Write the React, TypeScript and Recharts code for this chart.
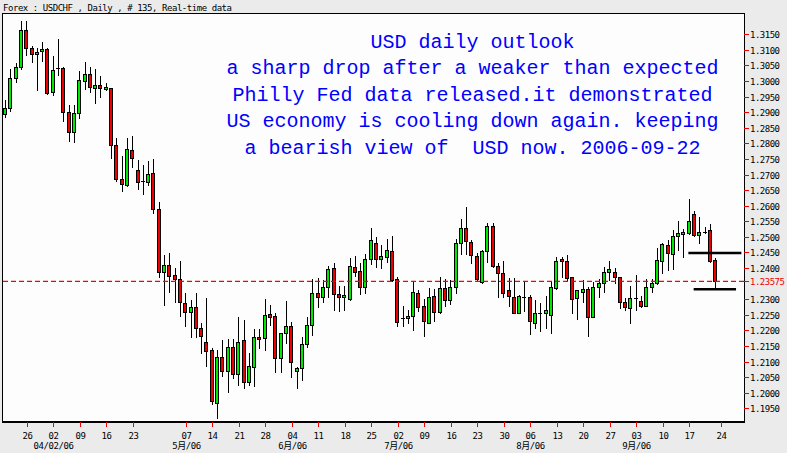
import React from 'react';
import { ComposedChart, Bar, XAxis, YAxis, ReferenceLine } from 'recharts';

const opens = [
  1.2895, 1.2913, 1.3009, 1.3044, 1.3164, 1.3105, 1.3086, 1.3097, 1.3102, 1.2966,
  1.3041, 1.3041, 1.2902, 1.2836, 1.2897, 1.3000, 1.3022, 1.2977, 1.2986, 1.2975,
  1.2977, 1.2795, 1.2686, 1.2666, 1.2779, 1.2715, 1.2679, 1.2677, 1.2706, 1.2588,
  1.2386, 1.2410, 1.2378, 1.2364, 1.2287, 1.2260, 1.2276, 1.2207, 1.2164, 1.2137,
  1.1968, 1.2114, 1.2071, 1.2146, 1.2059, 1.2169, 1.2035, 1.2084, 1.2178, 1.2175,
  1.2253, 1.2246, 1.2111, 1.2191, 1.2214, 1.2069, 1.2078, 1.2155, 1.2216, 1.2320,
  1.2308, 1.2338, 1.2399, 1.2316, 1.2306, 1.2301, 1.2403, 1.2391, 1.2338, 1.2428,
  1.2480, 1.2428, 1.2437, 1.2456, 1.2364, 1.2240, 1.2239, 1.2247, 1.2320, 1.2278,
  1.2225, 1.2309, 1.2258, 1.2335, 1.2298, 1.2340, 1.2480, 1.2528, 1.2483, 1.2439,
  1.2356, 1.2455, 1.2535, 1.2407, 1.2383, 1.2330, 1.2308, 1.2257, 1.2308, 1.2308,
  1.2223, 1.2255, 1.2257, 1.2249, 1.2335, 1.2428, 1.2423, 1.2370, 1.2303, 1.2324,
  1.2334, 1.2244, 1.2338, 1.2353, 1.2388, 1.2386, 1.2370, 1.2290, 1.2271, 1.2303,
  1.2295, 1.2279, 1.2338, 1.2351, 1.2424, 1.2474, 1.2445, 1.2504, 1.2508, 1.2514,
  1.2574, 1.2506, 1.2516, 1.2522, 1.2426,
];

const highs = [
  1.2939, 1.3039, 1.3059, 1.3193, 1.3193, 1.3113, 1.3105, 1.3124, 1.3105, 1.3080,
  1.3135, 1.3044, 1.2923, 1.2923, 1.3032, 1.3060, 1.3044, 1.3039, 1.3017, 1.2993,
  1.2979, 1.2816, 1.2760, 1.2816, 1.2825, 1.2747, 1.2731, 1.2744, 1.2750, 1.2613,
  1.2442, 1.2447, 1.2399, 1.2423, 1.2320, 1.2298, 1.2321, 1.2225, 1.2303, 1.2143,
  1.2137, 1.2169, 1.2171, 1.2171, 1.2244, 1.2233, 1.2128, 1.2205, 1.2205, 1.2301,
  1.2282, 1.2257, 1.2193, 1.2294, 1.2228, 1.2084, 1.2178, 1.2244, 1.2364, 1.2367,
  1.2362, 1.2407, 1.2415, 1.2342, 1.2344, 1.2431, 1.2438, 1.2415, 1.2445, 1.2530,
  1.2500, 1.2474, 1.2492, 1.2502, 1.2370, 1.2278, 1.2266, 1.2359, 1.2330, 1.2300,
  1.2335, 1.2332, 1.2372, 1.2365, 1.2362, 1.2492, 1.2557, 1.2595, 1.2490, 1.2447,
  1.2458, 1.2546, 1.2544, 1.2415, 1.2423, 1.2367, 1.2367, 1.2314, 1.2356, 1.2314,
  1.2298, 1.2287, 1.2310, 1.2356, 1.2435, 1.2437, 1.2442, 1.2372, 1.2330, 1.2362,
  1.2338, 1.2356, 1.2365, 1.2403, 1.2424, 1.2399, 1.2372, 1.2304, 1.2343, 1.2378,
  1.2310, 1.2364, 1.2364, 1.2463, 1.2480, 1.2490, 1.2522, 1.2551, 1.2525, 1.2622,
  1.2583, 1.2565, 1.2533, 1.2541, 1.2432,
];

const lows = [
  1.2886, 1.2905, 1.2998, 1.3039, 1.3084, 1.3062, 1.2971, 1.3064, 1.2958, 1.2955,
  1.3019, 1.2873, 1.2809, 1.2804, 1.2881, 1.2975, 1.2964, 1.2931, 1.2950, 1.2971,
  1.2752, 1.2680, 1.2648, 1.2664, 1.2725, 1.2654, 1.2638, 1.2667, 1.2576, 1.2372,
  1.2282, 1.2323, 1.2292, 1.2247, 1.2215, 1.2180, 1.2178, 1.2127, 1.2087, 1.1963,
  1.1920, 1.2055, 1.2003, 1.2046, 1.2025, 1.2014, 1.2025, 1.2022, 1.2143, 1.2137,
  1.2217, 1.2068, 1.2068, 1.2159, 1.2052, 1.2016, 1.2041, 1.2148, 1.2184, 1.2275,
  1.2292, 1.2308, 1.2266, 1.2261, 1.2264, 1.2298, 1.2373, 1.2316, 1.2320, 1.2413,
  1.2403, 1.2399, 1.2421, 1.2359, 1.2215, 1.2215, 1.2225, 1.2201, 1.2263, 1.2183,
  1.2223, 1.2231, 1.2255, 1.2278, 1.2285, 1.2320, 1.2445, 1.2445, 1.2415, 1.2362,
  1.2351, 1.2421, 1.2405, 1.2308, 1.2306, 1.2278, 1.2255, 1.2255, 1.2263, 1.2189,
  1.2207, 1.2199, 1.2207, 1.2193, 1.2332, 1.2370, 1.2362, 1.2257, 1.2236, 1.2292,
  1.2183, 1.2242, 1.2306, 1.2323, 1.2362, 1.2351, 1.2271, 1.2264, 1.2225, 1.2265,
  1.2275, 1.2278, 1.2324, 1.2349, 1.2383, 1.2394, 1.2396, 1.2458, 1.2435, 1.2509,
  1.2503, 1.2480, 1.2513, 1.2420, 1.2338,
];

const closes = [
  1.2913, 1.3009, 1.3044, 1.3164, 1.3105, 1.3086, 1.3094, 1.3103, 1.2963, 1.3036,
  1.3043, 1.2902, 1.2836, 1.2897, 1.3003, 1.3022, 1.2980, 1.2986, 1.2977, 1.2981,
  1.2795, 1.2686, 1.2669, 1.2782, 1.2752, 1.2677, 1.2680, 1.2701, 1.2588, 1.2386,
  1.2410, 1.2376, 1.2364, 1.2290, 1.2258, 1.2276, 1.2207, 1.2183, 1.2135, 1.1975,
  1.2114, 1.2071, 1.2146, 1.2059, 1.2162, 1.2035, 1.2086, 1.2178, 1.2172, 1.2249,
  1.2244, 1.2111, 1.2191, 1.2214, 1.2100, 1.2078, 1.2155, 1.2216, 1.2320, 1.2308,
  1.2338, 1.2396, 1.2316, 1.2306, 1.2313, 1.2407, 1.2386, 1.2338, 1.2428, 1.2490,
  1.2428, 1.2438, 1.2457, 1.2362, 1.2228, 1.2240, 1.2246, 1.2323, 1.2276, 1.2231,
  1.2306, 1.2258, 1.2335, 1.2298, 1.2340, 1.2480, 1.2528, 1.2487, 1.2442, 1.2364,
  1.2455, 1.2535, 1.2407, 1.2383, 1.2320, 1.2310, 1.2257, 1.2310, 1.2308, 1.2231,
  1.2255, 1.2255, 1.2266, 1.2338, 1.2423, 1.2422, 1.2369, 1.2300, 1.2330, 1.2333,
  1.2244, 1.2338, 1.2351, 1.2386, 1.2396, 1.2370, 1.2290, 1.2274, 1.2303, 1.2303,
  1.2279, 1.2338, 1.2351, 1.2426, 1.2476, 1.2447, 1.2504, 1.2512, 1.2515, 1.2551,
  1.2506, 1.2515, 1.2517, 1.2424, 1.23575,
];

// empty future slots to the right of the last bar
const futureSlots = 5;

const weekTickSlots = [4, 9, 14, 19, 24, 34, 39, 44, 49, 54, 59, 64, 69, 74, 79, 84, 89, 94, 99, 104, 109, 114, 119, 124, 129, 135];
const weekTickLabels = ['26', '02', '09', '16', '23', '07', '14', '21', '28', '04', '11', '18', '25', '02', '09', '16', '23', '30', '06', '13', '20', '27', '03', '10', '17', '24'];
const monthTickSlots = [9, 34, 54, 74, 99, 119];
const monthTickLabels = ['04/02/06', '5月/06', '6月/06', '7月/06', '8月/06', '9月/06'];

const priceTicks = [
  1.195, 1.2, 1.205, 1.21, 1.215, 1.22, 1.225, 1.23, 1.23575, 1.24, 1.245, 1.25,
  1.255, 1.26, 1.265, 1.27, 1.275, 1.28, 1.285, 1.29, 1.295, 1.3, 1.305, 1.31, 1.315,
];
const priceDomain = [1.19061, 1.3212];
const lastPrice = 1.23575;
const lastPriceLabel = '1.23575';
const resistanceLevel = 1.2448;
const supportLevel = 1.2332;
const resistanceSpan = [129, 139];
const supportSpan = [130, 138];

const headerText = 'Forex : USDCHF , Daily , # 135, Real-time data';
const noteLines = [
  'USD daily outlook',
  'a sharp drop after a weaker than expected',
  'Philly Fed data released.it demonstrated',
  'US economy is cooling down again. keeping',
  'a bearish view of  USD now. 2006-09-22',
];

const rows = Array.from({ length: opens.length + futureSlots }, (_, i) =>
  i < opens.length
    ? { i, o: opens[i], h: highs[i], l: lows[i], c: closes[i], range: [lows[i], highs[i]] }
    : { i, range: null }
);

const UP = '#00E800';
const DOWN = '#EE0000';
const TICK_RED = '#EE0000';
const SMALL_FONT = "'DejaVu Sans Mono', 'Noto Sans CJK SC', monospace";

const Candle = (props: any) => {
  const { x, y, width, height, payload } = props;
  if (!payload || payload.o == null || height == null) return null;
  const { o, h, l, c } = payload;
  const ppu = h - l > 0 ? height / (h - l) : 0;
  const yOf = (v: number) => y + (h - v) * ppu;
  const px = Math.round(x + width / 2);
  const wx = px + 0.5;
  const yh = Math.round(yOf(h));
  const yl = Math.round(yOf(l));
  const top = Math.round(yOf(Math.max(o, c)));
  const bot = Math.round(yOf(Math.min(o, c)));
  const doji = Math.abs(o - c) <= 0.00021;
  return (
    <g>
      <line x1={wx} x2={wx} y1={yh} y2={yl + 1} stroke="#000" strokeWidth={1} />
      {doji ? (
        <line x1={px - 2} x2={px + 2} y1={top + 0.5} y2={top + 0.5} stroke="#000" strokeWidth={1} />
      ) : (
        <rect
          x={px - 1.5}
          y={top + 0.5}
          width={3}
          height={Math.max(bot - top, 1)}
          fill={c >= o ? UP : DOWN}
          stroke="#000"
          strokeWidth={1}
        />
      )}
    </g>
  );
};

const XTick = (props: any) => {
  const { x, y, payload } = props;
  const k = weekTickSlots.indexOf(payload.value);
  if (k < 0) return null;
  const m = monthTickSlots.indexOf(payload.value);
  const tx = Math.round(x) + 1.5;
  return (
    <g>
      <line x1={tx} x2={tx} y1={y} y2={y + 5} stroke={TICK_RED} strokeWidth={1} />
      <text x={tx} y={y + 17} textAnchor="middle" fontFamily={SMALL_FONT} fontSize={9} letterSpacing={-0.4} fill="#000">
        {weekTickLabels[k]}
      </text>
      {m >= 0 && (
        <text x={tx} y={y + 27} textAnchor="middle" fontFamily={SMALL_FONT} fontSize={9} letterSpacing={-0.4} fill="#000">
          {monthTickLabels[m]}
        </text>
      )}
    </g>
  );
};

const YTick = (props: any) => {
  const { x, y, payload } = props;
  const v = payload.value;
  const isLast = Math.abs(v - lastPrice) < 1e-9;
  const yy = Math.round(y) + 0.5;
  return (
    <g>
      <line x1={x} x2={x + 5} y1={yy} y2={yy} stroke={TICK_RED} strokeWidth={1} />
      <text x={x + 6} y={yy + 3.5} textAnchor="start" fontFamily={SMALL_FONT} fontSize={9} letterSpacing={-0.5} fill={isLast ? TICK_RED : '#000'}>
        {isLast ? lastPriceLabel : v.toFixed(4)}
      </text>
    </g>
  );
};

export default function App() {
  return (
    <div style={{ position: 'absolute', left: 0, top: 0, width: 787, height: 453, background: '#EBEBEB', overflow: 'hidden' }}>
      <div
        style={{
          position: 'absolute',
          left: 2,
          top: 13,
          width: 743,
          height: 410,
          boxSizing: 'border-box',
          background: '#FDFDFD',
          borderTop: '1px solid #000',
          borderLeft: '1px solid #000',
          borderRight: '1px solid #000',
          borderBottom: '2px solid #000',
        }}
      />
      <div style={{ position: 'absolute', left: 0, top: 0 }}>
        <ComposedChart width={787} height={453} data={rows} margin={{ top: 15, right: 0, bottom: 0, left: 2 }}>
          <XAxis
            dataKey="i"
            type="category"
            height={31}
            interval={0}
            tick={<XTick />}
            tickLine={false}
            axisLine={false}
            tickSize={0}
            tickMargin={0}
          />
          <YAxis
            orientation="right"
            type="number"
            width={43}
            domain={priceDomain}
            allowDataOverflow
            ticks={priceTicks}
            interval={0}
            tick={<YTick />}
            tickLine={false}
            axisLine={false}
            tickSize={0}
            tickMargin={0}
          />
          <Bar dataKey="range" barSize={4} isAnimationActive={false} shape={(p: any) => <Candle {...p} />} />
          <ReferenceLine y={lastPrice} stroke="#FF0000" strokeDasharray="5 3" strokeWidth={1.2} />
          <ReferenceLine
            segment={[{ x: resistanceSpan[0], y: resistanceLevel }, { x: resistanceSpan[1], y: resistanceLevel }]}
            stroke="#000"
            strokeWidth={2.5}
          />
          <ReferenceLine
            segment={[{ x: supportSpan[0], y: supportLevel }, { x: supportSpan[1], y: supportLevel }]}
            stroke="#000"
            strokeWidth={2.5}
          />
        </ComposedChart>
      </div>
      <svg width={787} height={453} style={{ position: 'absolute', left: 0, top: 0, pointerEvents: 'none' }}>
        <text x={3} y={11} fontFamily={SMALL_FONT} fontSize={9} letterSpacing={-0.45} fill="#000">
          {headerText}
        </text>
        {noteLines.map((t, k) => (
          <text
            key={k}
            x={472.5}
            y={47.5 + k * 26.65}
            textAnchor="middle"
            fontFamily="'Liberation Mono', monospace"
            fontSize={20}
            fill="#0000FF"
            style={{ whiteSpace: 'pre' }}
          >
            {t}
          </text>
        ))}
      </svg>
    </div>
  );
}
